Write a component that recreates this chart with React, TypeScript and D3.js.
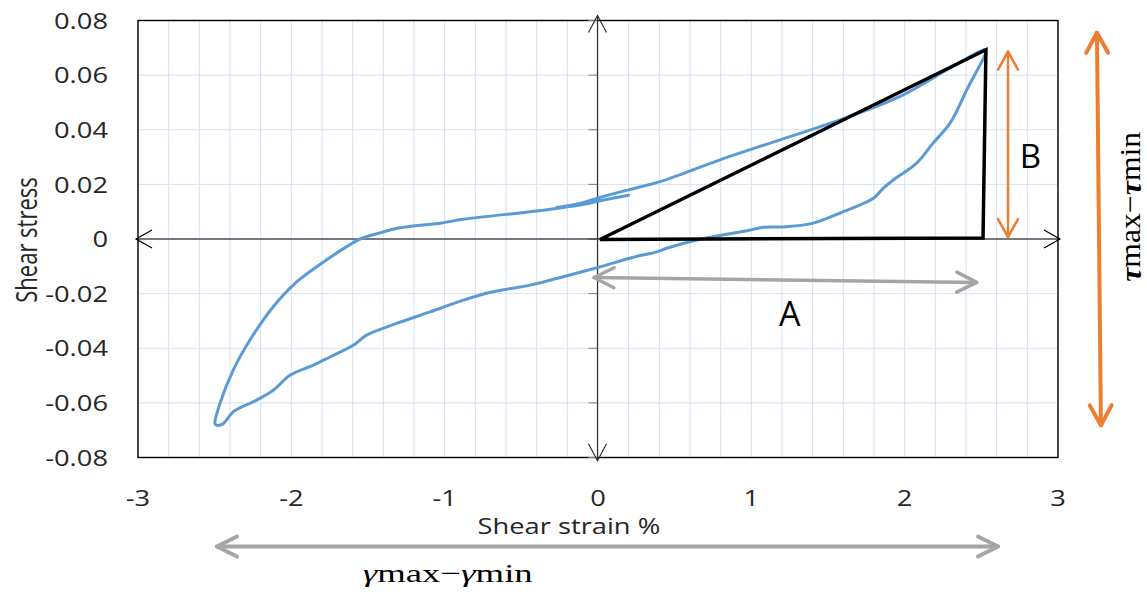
import React from 'react';
import * as d3 from 'd3';

// ---------- data ----------
const strainTicks = [-3, -2, -1, 0, 1, 2, 3];
const strainTickLabels = ['-3', '-2', '-1', '0', '1', '2', '3'];
const stressTicks = [0.08, 0.06, 0.04, 0.02, 0, -0.02, -0.04, -0.06, -0.08];
const stressTickLabels = ['0.08', '0.06', '0.04', '0.02', '0', '-0.02', '-0.04', '-0.06', '-0.08'];

// hysteresis loop (shear strain %, shear stress)
const loopStrain = [
  -0.27, -0.1, 0.013, 0.2, 0.404, 0.796, 1.187, 1.578, 1.97, 2.296, 2.491, 2.53,
  2.405, 2.296, 2.185, 2.078, 1.926, 1.861, 1.796, 1.6, 1.404, 1.231, 1.078, 0.97, 0.665, 0.448, 0.383, 0.23, 0.013,
  -0.226, -0.443, -0.7, -0.878, -1.096, -1.313, -1.509, -1.596, -1.748, -1.857, -2.009, -2.118, -2.226, -2.379, -2.444, -2.487,
  -2.498, -2.466, -2.379, -2.27, -2.118, -1.965, -1.748, -1.639, -1.552, -1.43, -1.3, -1.03, -0.878, -0.443, -0.27, -0.1, 0.013, 0.2,
];
const loopStress = [
  0.0115, 0.0133, 0.0152, 0.018, 0.021, 0.029, 0.0363, 0.0436, 0.0522, 0.0626, 0.0687, 0.0693,
  0.0546, 0.0424, 0.0351, 0.0278, 0.0216, 0.0186, 0.0149, 0.01, 0.0058, 0.0045, 0.0043, 0.003, -0.0001, -0.0034, -0.0047, -0.0067, -0.0102,
  -0.0138, -0.0169, -0.0195, -0.0224, -0.0267, -0.0309, -0.0352, -0.0389, -0.0432, -0.0462, -0.0499, -0.0554, -0.059, -0.0633, -0.0676, -0.0682,
  -0.0676, -0.0603, -0.048, -0.037, -0.0248, -0.0157, -0.0068, -0.0028, 0, 0.0021, 0.004, 0.0058, 0.0072, 0.01, 0.0112, 0.0126, 0.014, 0.016,
];

// triangle annotation
const triangleStrain = [0.013, 2.53, 2.511];
const triangleStress = [-0.0002, 0.0693, 0.0004];

// arrows: [x1, x2], [y1, y2]
const arrowAStrain = [-0.026, 2.47];
const arrowAStress = [-0.0141, -0.0159];
const arrowBStrain = [2.674, 2.674];
const arrowBStress = [0.0686, 0.0007];
const tauArrowStrain = [3.254, 3.28];
const tauArrowStress = [0.0755, -0.0682];
const gammaArrowStrain = [-2.485, 2.609];
const gammaArrowStress = [-0.1126, -0.1126];

const labelA = { text: 'A', strain: 1.25, stress: -0.0272 };
const labelB = { text: 'B', strain: 2.82, stress: 0.0305 };
const tauLabel = { greek: 'τ', strain: 3.47, stress: 0.0118 };
const gammaLabel = { greek: 'γ', strain: -0.98, stress: -0.1257 };
const xTitle = { text: 'Shear strain %', strain: -0.19 };
const yTitle = 'Shear stress';

// ---------- layout ----------
const W = 1147;
const H = 592;
const left = 138;
const right = 1058;
const top = 20.5;
const bottom = 457.5;

const x = d3.scaleLinear().domain([-3, 3]).range([left, right]);
const y = d3.scaleLinear().domain([-0.08, 0.08]).range([bottom, top]);

const FONT = "'Open Sans', 'Noto Sans', sans-serif";
const SERIF = "'Liberation Serif', 'DejaVu Serif', serif";
const SX = 1.3;

function chevron(x1: number, y1: number, x2: number, y2: number, back: number, spread: number) {
  const dx = x2 - x1, dy = y2 - y1;
  const len = Math.hypot(dx, dy);
  const ux = dx / len, uy = dy / len;
  const px = -uy, py = ux;
  const bx = x2 - ux * back, by = y2 - uy * back;
  return `M${bx + px * spread},${by + py * spread}L${x2},${y2}L${bx - px * spread},${by - py * spread}`;
}

function Arrow({ xs, ys, color, width, back, spread }: any) {
  const x1 = x(xs[0]), x2 = x(xs[1]), y1 = y(ys[0]), y2 = y(ys[1]);
  return (
    <g fill="none" stroke={color} strokeWidth={width} strokeLinecap="round" strokeLinejoin="round">
      <line x1={x1} y1={y1} x2={x2} y2={y2} />
      <path d={chevron(x1, y1, x2, y2, back, spread)} />
      <path d={chevron(x2, y2, x1, y1, back, spread)} />
    </g>
  );
}

export default function App() {
  const minorX = d3.range(-3, 3.0001, 0.2);
  const line = d3
    .line<number>()
    .x((_, i) => x(loopStrain[i]))
    .y((_, i) => y(loopStress[i]))
    .curve(d3.curveCatmullRom.alpha(0.5));
  const loopPath = line(loopStrain) as string;

  const tri = triangleStrain.map((s, i) => `${x(s)},${y(triangleStress[i])}`).join(' ');

  const x0 = x(0) - 0.5;
  const yAxisTop = y(0.0818);
  const yAxisBottom = y(-0.0812);

  return (
    <svg
      width={W}
      height={H}
      style={{ position: 'absolute', left: 0, top: 0, background: '#fff' }}
      fontFamily={FONT}
    >
      <rect x={0} y={0} width={W} height={H} fill="#fff" />
      {/* grid */}
      <g stroke="#D6E1F1" strokeWidth={1}>
        {minorX.map((v, i) => (
          <line key={'gx' + i} x1={x(v)} x2={x(v)} y1={top} y2={bottom} />
        ))}
        {stressTicks.map((v, i) => (
          <line key={'gy' + i} x1={left} x2={right} y1={y(v)} y2={y(v)} />
        ))}
      </g>
      {/* plot border */}
      <rect x={left} y={top} width={right - left} height={bottom - top} fill="none" stroke="#000" strokeWidth={1.4} />

      {/* small ticks on vertical axis */}
      <g stroke="#808080" strokeWidth={1}>
        {stressTicks.map((v, i) => (
          <line key={'t' + i} x1={x0 - 9} x2={x0} y1={y(v)} y2={y(v)} />
        ))}
      </g>

      {/* axis arrows */}
      <g fill="none" stroke="#000" strokeWidth={1.2}>
        <line x1={x(-3.013)} x2={x(3.013)} y1={y(0)} y2={y(0)} />
        <path d={chevron(x(0), y(0), x(-3.013), y(0), 16, 9)} />
        <path d={chevron(x(0), y(0), x(3.013), y(0), 16, 9)} />
      </g>
      <g fill="none" stroke="#303030" strokeWidth={1.2}>
        <line x1={x0} x2={x0} y1={yAxisTop} y2={yAxisBottom} />
        <path d={chevron(x0, y(0), x0, yAxisTop, 17, 9)} />
        <path d={chevron(x0, y(0), x0, yAxisBottom, 17, 9)} />
      </g>

      {/* hysteresis loop */}
      <path d={loopPath} fill="none" stroke="#5B9BD5" strokeWidth={3} strokeLinejoin="round" strokeLinecap="round" />

      {/* triangle */}
      <polygon points={tri} fill="none" stroke="#000" strokeWidth={3.5} strokeLinejoin="miter" />

      {/* annotation arrows */}
      <Arrow xs={arrowAStrain} ys={arrowAStress} color="#A5A5A5" width={3.5} back={20} spread={10} />
      <Arrow xs={arrowBStrain} ys={arrowBStress} color="#ED7D31" width={2.5} back={18} spread={10} />
      <Arrow xs={tauArrowStrain} ys={tauArrowStress} color="#ED7D31" width={4} back={20} spread={11} />
      <Arrow xs={gammaArrowStrain} ys={gammaArrowStress} color="#A5A5A5" width={4} back={20} spread={10} />

      {/* tick labels and titles */}
      <g fill="#262626" fontSize={21}>
        {stressTicks.map((v, i) => (
          <text
            key={'yl' + i}
            transform={`translate(${left - 30},${y(v)}) scale(${SX},1)`}
            textAnchor="end"
            dominantBaseline="central"
          >
            {stressTickLabels[i]}
          </text>
        ))}
        {strainTicks.map((v, i) => (
          <text
            key={'xl' + i}
            transform={`translate(${x(v)},${bottom + 40}) scale(${SX},1)`}
            textAnchor="middle"
            dominantBaseline="central"
          >
            {strainTickLabels[i]}
          </text>
        ))}
        <text
          transform={`translate(${x(xTitle.strain)},${bottom + 68}) scale(${SX},1)`}
          textAnchor="middle"
          dominantBaseline="central"
        >
          {xTitle.text}
        </text>
        <text
          transform={`translate(26,${y(0) + 1}) scale(${SX},1) rotate(-90)`}
          textAnchor="middle"
          dominantBaseline="central"
          fontSize={22}
        >
          {yTitle}
        </text>
      </g>

      {/* A / B labels */}
      <text x={x(labelA.strain)} y={y(labelA.stress)} fontSize={34} textAnchor="middle" dominantBaseline="central" fill="#000">
        {labelA.text}
      </text>
      <text x={x(labelB.strain)} y={y(labelB.stress)} fontSize={33} textAnchor="middle" dominantBaseline="central" fill="#000">
        {labelB.text}
      </text>

      {/* math labels */}
      <text
        x={x(gammaLabel.strain)}
        y={y(gammaLabel.stress)}
        fontFamily={SERIF}
        fontSize={26}
        textAnchor="middle"
        textLength={170}
        lengthAdjust="spacingAndGlyphs"
        fill="#000"
      >
        <tspan fontStyle="italic">{gammaLabel.greek}</tspan>max−<tspan fontStyle="italic">{gammaLabel.greek}</tspan>min
      </text>
      <text
        transform={`translate(${x(tauLabel.strain)},${y(tauLabel.stress)}) scale(1.15,1) rotate(-90)`}
        fontFamily={SERIF}
        fontSize={26}
        textAnchor="middle"
        dominantBaseline="central"
        textLength={150}
        lengthAdjust="spacingAndGlyphs"
        fill="#000"
      >
        <tspan fontStyle="italic" fontWeight="bold">{tauLabel.greek}</tspan>max−<tspan fontStyle="italic" fontWeight="bold">{tauLabel.greek}</tspan>min
      </text>
    </svg>
  );
}
